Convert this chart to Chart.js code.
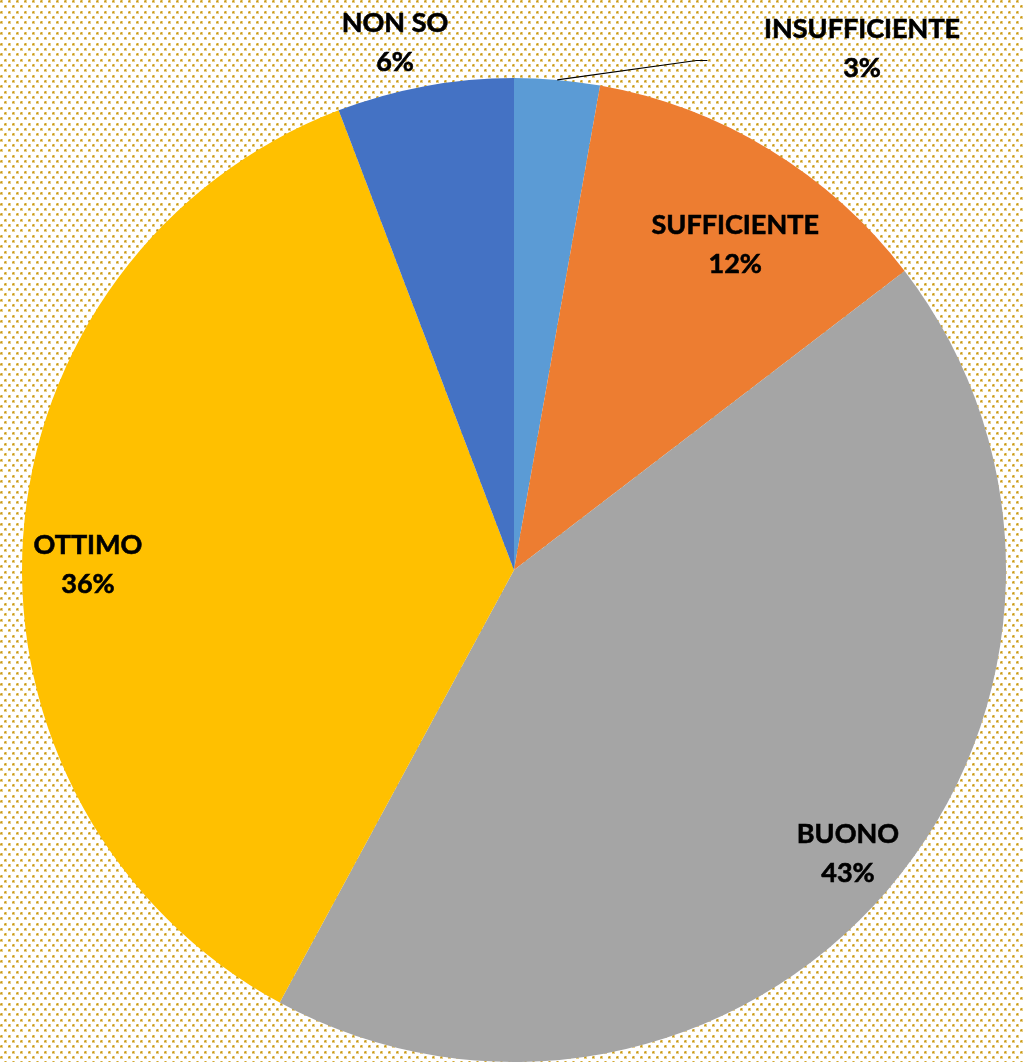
<!DOCTYPE html>
<html>
<head>
<meta charset="utf-8">
<script src="https://cdn.jsdelivr.net/npm/chart.js@4.4.0/dist/chart.umd.min.js"></script>
<style>
  html, body { margin: 0; padding: 0; background: #fff; }
  #wrap { width: 1023px; height: 1062px; position: relative; }
</style>
</head>
<body>
<div id="wrap"><canvas id="c" width="1023" height="1062"></canvas></div>
<script>
// ---- data ----
const categories = ['INSUFFICIENTE', 'SUFFICIENTE', 'BUONO', 'OTTIMO', 'NON SO'];
const values = [2.8, 11.8, 43.3, 36.3, 5.8];
const percentLabels = ['3%', '12%', '43%', '36%', '6%'];
const colors = ['#5B9BD5', '#ED7D31', '#A5A5A5', '#FFC000', '#4472C4'];

// label placement: [radius factor, angle (deg from top, clockwise)]
const labelPlacement = [
  [1.275, 33.7],
  [0.80, 34.2],
  [0.89, 130.3],
  [0.866, 270.8],
  [1.10, 347.3]
];

function makePattern(ctx) {
  const t = document.createElement('canvas');
  t.width = 8; t.height = 32;
  const g = t.getContext('2d');
  g.fillStyle = '#ffffff';
  g.fillRect(0, 0, 8, 32);
  const rows = [0, 5, 11, 16, 21, 27];
  rows.forEach((y, i) => {
    const x = (i % 2) ? 4 : 0;
    g.fillStyle = 'rgba(222,190,100,0.75)';
    g.fillRect(x, y, 3, 3);
    g.fillStyle = 'rgb(200,152,20)';
    g.fillRect(x + 1, y + 1, 1, 1);
    g.fillStyle = 'rgb(210,168,50)';
    g.fillRect(x, y + 1, 1, 1);
    g.fillRect(x + 1, y, 1, 1);
  });
  return ctx.createPattern(t, 'repeat');
}

const bgPlugin = {
  id: 'bg',
  beforeDraw(chart) {
    const ctx = chart.ctx;
    ctx.save();
    ctx.fillStyle = makePattern(ctx);
    ctx.fillRect(0, 0, chart.width, chart.height);
    ctx.restore();
  }
};

const labelPlugin = {
  id: 'labels',
  afterDatasetsDraw(chart) {
    const ctx = chart.ctx;
    const meta = chart.getDatasetMeta(0);
    ctx.save();
    ctx.font = 'bold 27px Lato, "Open Sans", sans-serif';
    ctx.fillStyle = '#000';
    ctx.textAlign = 'center';
    ctx.textBaseline = 'middle';
    meta.data.forEach((arc, i) => {
      const r = arc.outerRadius;
      const [f, deg] = labelPlacement[i];
      const a = (deg - 90) * Math.PI / 180;
      const x = arc.x + Math.cos(a) * r * f;
      const y = arc.y + Math.sin(a) * r * f;
      ctx.lineWidth = 0.6;
      ctx.strokeStyle = '#000';
      ctx.fillText(categories[i], x, y - 19);
      ctx.strokeText(categories[i], x, y - 19);
      ctx.fillText(percentLabels[i], x, y + 20);
      ctx.strokeText(percentLabels[i], x, y + 20);
      if (i === 0) {
        const mid = (arc.startAngle + arc.endAngle) / 2;
        const sx = arc.x + Math.cos(mid) * r;
        const sy = arc.y + Math.sin(mid) * r;
        const ea = (19.7 - 90) * Math.PI / 180;
        const ex = arc.x + Math.cos(ea) * r * 1.10;
        const ey = arc.y + Math.sin(ea) * r * 1.10;
        ctx.lineWidth = 1.2;
        ctx.beginPath();
        ctx.moveTo(sx, sy);
        ctx.lineTo(ex, ey);
        ctx.lineTo(ex + 11, ey);
        ctx.stroke();
      }
    });
    ctx.restore();
  }
};

new Chart(document.getElementById('c'), {
  type: 'pie',
  data: {
    labels: categories,
    datasets: [{
      data: values,
      backgroundColor: colors,
      borderWidth: 0
    }]
  },
  options: {
    responsive: false,
    animation: false,
    layout: { padding: { top: 78, bottom: 0, left: 22, right: 17 } },
    plugins: {
      legend: { display: false },
      tooltip: { enabled: false }
    }
  },
  plugins: [bgPlugin, labelPlugin]
});
</script>
</body>
</html>
